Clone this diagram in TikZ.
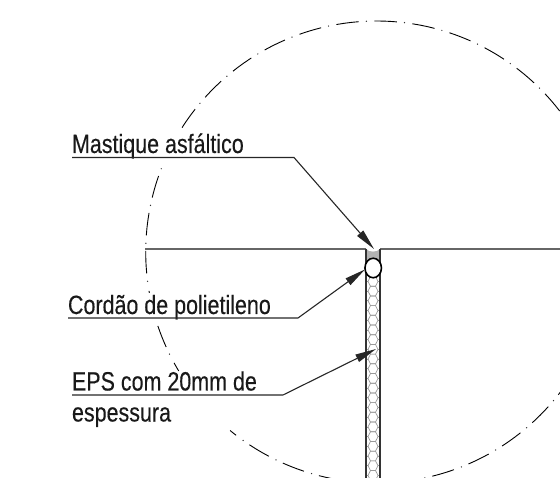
\documentclass[tikz,border=0pt]{standalone}
\usepackage{fontspec}
\setmainfont[FakeBold=0.25]{Liberation Sans}
\usetikzlibrary{arrows.meta,shapes.geometric}
\tikzset{
  x=1pt,y=-1pt,
  labeltext/.style={anchor=base west,inner sep=0pt,outer sep=0pt,font=\fontsize{26.5}{30}\selectfont,text=black!90,xscale=0.81,transform shape},
  leader/.style={line width=1.1pt,draw=black!85,-{Triangle[length=21pt,width=8pt]}},
  wall/.style={line width=1.3pt,draw=black!80},
  surface/.style={line width=1.1pt,draw=black!60},
  hex/.style={line width=0.7pt,draw=black!40},
  detail/.style={line width=0.9pt,draw=black},
  rodshape/.style={ellipse,draw=black,line width=1.6pt,fill=white,minimum width=16.5pt,minimum height=19.5pt,inner sep=0pt,outer sep=0pt}
}
\newcommand{\circx}[1]{376.7+231*cos(#1)}
\newcommand{\circy}[1]{252-231*sin(#1)}
\newcommand{\dashseg}[2]{\draw[detail] plot[domain=#1:#2,samples=4,smooth] ({\circx{\x}},{\circy{\x}});}
\begin{document}
\begin{tikzpicture}
\useasboundingbox (0,0) rectangle (560,478);
\clip (0,0) rectangle (560,478);
% dash-dot detail circle
\foreach \k in {-6,-5,...,5,7,8,9,11,15,16,...,31}{
  \pgfmathsetmacro{\ta}{92.56+9.474*\k+1.9}
  \pgfmathsetmacro{\tb}{92.56+9.474*\k+7.5}
  \dashseg{\ta}{\tb}
}
\foreach \k in {-5,-4,...,5,7,8,9,10,12,15,16,...,31}{
  \pgfmathsetmacro{\ta}{92.56+9.474*\k}
  \fill[black!80] ({\circx{\ta}},{\circy{\ta}}) circle (0.7);
}
\dashseg{189.7}{190.2}
\dashseg{208.7}{211}
\dashseg{230.6}{232.5}
% surfaces
\coordinate (sl) at (145,249);
\coordinate (wl) at (366,249);
\coordinate (wr) at (380,249);
\coordinate (sr) at (560,249);
\coordinate (wlb) at (366,478);
\coordinate (wrb) at (380,478);
% honeycomb fill
\begin{scope}
\clip (366,262) rectangle (380,478);
\foreach \r in {0,...,23}{
  \pgfmathsetmacro{\yc}{262+9.7*\r}
  \draw[hex] (368,\yc) -- (370.5,\yc-4.85) -- (375.5,\yc-4.85) -- (378,\yc) -- (375.5,\yc+4.85) -- (370.5,\yc+4.85) -- cycle;
  \draw[hex] (366,\yc) -- (368,\yc) (378,\yc) -- (380,\yc);
}
\end{scope}
% mastic
\fill[black!30] (366,249) .. controls (369,252.5) and (377,252.5) .. (380,249) -- (380,264) -- (366,264) -- cycle;
\draw[surface] (sl) -- (wl);
\draw[surface] (wr) -- (sr);
\draw[wall] (wl) -- (wlb);
\draw[wall] (wr) -- (wrb);
% backer rod
\node[rodshape] (rod) at (373.2,268) {};
\coordinate (mastic) at (374,249);
\coordinate (eps) at (376,349);
% labels
\node[labeltext] (mlabel) at (72,153) {Mastique asfáltico};
\node[labeltext] (clabel) at (68,314) {Cordão de polietileno};
\node[labeltext] (elabel) at (72,390.5) {EPS com 20mm de};
\node[labeltext] (elabeltwo) at (72,421.5) {espessura};
% leaders
\coordinate (m0) at (72,157.5);
\coordinate (m1) at (294,157.5);
\coordinate (c0) at (68,318);
\coordinate (c1) at (298,318);
\coordinate (e0) at (72,395);
\coordinate (e1) at (283,395);
\draw[leader] (m0) -- (m1) -- (mastic);
\draw[leader] (c0) -- (c1) -- (rod.190);
\draw[leader] (e0) -- (e1) -- (eps);
\end{tikzpicture}
\end{document}
